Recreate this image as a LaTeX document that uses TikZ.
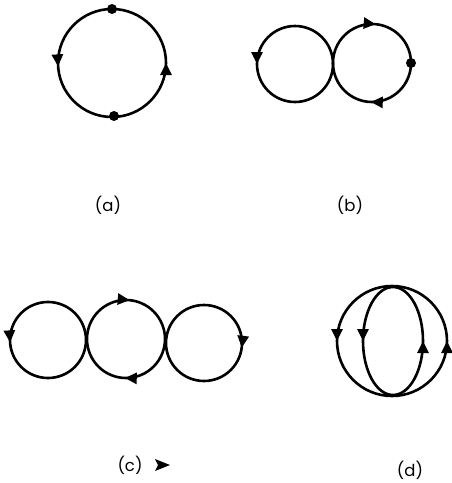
\documentclass[tikz,border=0pt]{standalone}
\usepackage{fontspec}
\setmainfont{Poppins}
\usetikzlibrary{arrows.meta, decorations.markings}
\tikzset{
	loopline/.style={
			line width=2.6pt
		},
	cwarrow/.style={
			postaction={decorate, decoration={markings,
						mark=at position #1 with {\arrow{Triangle[length=12pt,width=11pt]}}}}
		},
	ccwarrow/.style={
			postaction={decorate, decoration={markings,
						mark=at position #1 with {\arrowreversed{Triangle[length=12pt,width=11pt]}}}}
		},
	vertexnode/.style={
			circle,
			fill=black,
			minimum size=10pt,
			inner sep=0pt
		},
	labelnode/.style={
			font=\fontsize{16.5}{19}\selectfont
		}
}

\begin{document}
\begin{tikzpicture}[x=1pt, y=-1pt]
  \useasboundingbox (0,0) rectangle (451,483);

  % (a)
  \draw[loopline, ccwarrow=0.49, ccwarrow=0.0] (112,63) circle (54);
  \node[vertexnode] (a1) at (112,9) {};
  \node[vertexnode] (a2) at (114,116) {};
  \node[labelnode] (la) at (108,205) {(a)};

  % (b)
  \draw[loopline, ccwarrow=0.5] (295,64) circle (38);
  \draw[loopline, cwarrow=0.765, cwarrow=0.255] (372,63) circle (39);
  \node[vertexnode] (b1) at (411,63) {};
  \node[labelnode] (lb) at (350,205) {(b)};

  % (c)
  \draw[loopline, ccwarrow=0.49] (48,340) circle (38);
  \draw[loopline, cwarrow=0.765, cwarrow=0.255] (126,339) circle (39);
  \draw[loopline, cwarrow=0.02] (204,343) circle (38);
  \node[labelnode] (lc) at (130,465) {(c)};
  \fill (155,459) -- (170,465) -- (155,471) -- (158,465) -- cycle;

  % (d)
  \draw[loopline, ccwarrow=0.5, ccwarrow=0.0] (392,341) circle (55);
  \draw[loopline, ccwarrow=0.5, ccwarrow=0.0] (393,341) ellipse (30 and 54);
  \node[labelnode] (ld) at (410,470) {(d)};

\end{tikzpicture}
\end{document}
